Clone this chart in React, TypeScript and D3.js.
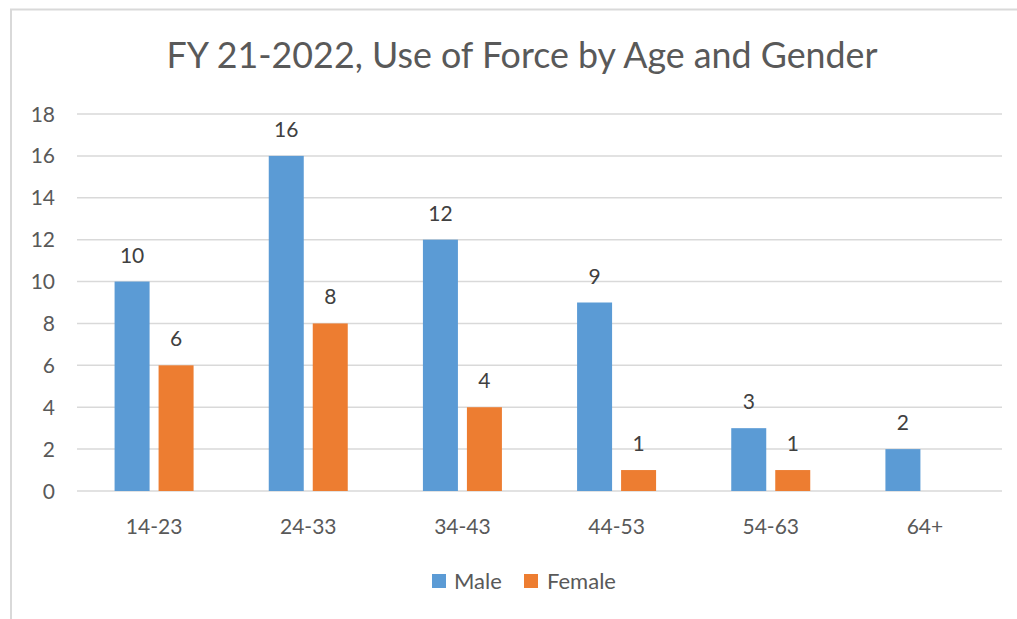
import React from 'react';
import * as d3 from 'd3';

const categories = ['14-23', '24-33', '34-43', '44-53', '54-63', '64+'];
const male = [10, 16, 12, 9, 3, 2];
const female = [6, 8, 4, 1, 1, 0];
const yTicks = [0, 2, 4, 6, 8, 10, 12, 14, 16, 18];

const series = [
  { name: 'Male', values: male, color: '#5b9bd5' },
  { name: 'Female', values: female, color: '#ed7d31' },
];

const FONT = 'Lato, "Open Sans", sans-serif';

export default function App() {
  const width = 1017;
  const height = 619;
  const plot = { left: 77, right: 1002, top: 114, bottom: 491 };

  const x = d3.scaleBand<string>()
    .domain(categories)
    .range([plot.left, plot.right]);

  const y = d3.scaleLinear()
    .domain([0, 18])
    .range([plot.bottom, plot.top]);

  const barW = 35;
  const gap = 9;

  return (
    <svg width={width} height={height} style={{ position: 'absolute', left: 0, top: 0 }}>
      <rect x={0} y={0} width={width} height={height} fill="#fff" />
      {/* chart frame */}
      <path d={`M11,${height} V9.5 H${width}`} fill="none" stroke="#d9d9d9" strokeWidth={2} />

      <text x={522} y={68} textAnchor="middle" fontFamily={FONT} fontSize={35.8} fill="#595959">
        FY 21-2022, Use of Force by Age and Gender
      </text>

      {/* gridlines */}
      {yTicks.map(t => (
        <g key={t}>
          <line x1={plot.left} x2={plot.right} y1={y(t)} y2={y(t)} stroke="#d9d9d9" strokeWidth={1.5} />
          <text x={55} y={y(t)} dy="0.36em" textAnchor="end" fontFamily={FONT} fontSize={21} fill="#595959">
            {t}
          </text>
        </g>
      ))}

      {/* bars */}
      {categories.map((c, i) => {
        const cx = (x(c) as number) + x.bandwidth() / 2;
        return (
          <g key={c}>
            {series.map((s, j) => {
              const v = s.values[i];
              if (!v) return null;
              const bx = j === 0 ? cx - gap / 2 - barW : cx + gap / 2;
              return (
                <g key={s.name}>
                  <rect x={bx} y={y(v)} width={barW} height={y(0) - y(v)} fill={s.color} />
                  <text x={bx + barW / 2} y={y(v) - 19} textAnchor="middle" fontFamily={FONT} fontSize={21} fill="#404040">
                    {v}
                  </text>
                </g>
              );
            })}
            <text x={cx} y={534} textAnchor="middle" fontFamily={FONT} fontSize={21} fill="#595959">
              {c}
            </text>
          </g>
        );
      })}

      {/* legend */}
      <g fontFamily={FONT} fontSize={22} fill="#595959">
        <rect x={432} y={574} width={14} height={14} fill={series[0].color} />
        <text x={454} y={589}>Male</text>
        <rect x={524} y={574} width={14} height={14} fill={series[1].color} />
        <text x={547} y={589}>Female</text>
      </g>
    </svg>
  );
}
